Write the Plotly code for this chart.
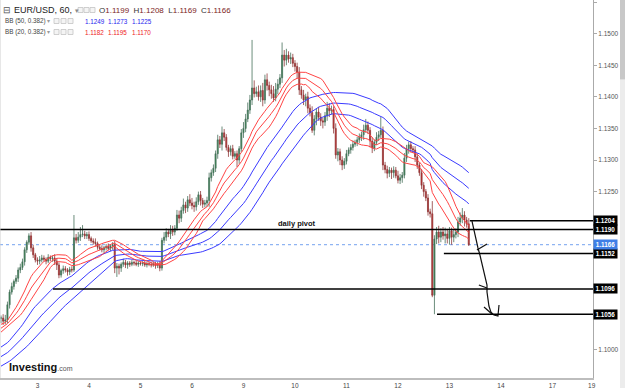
import plotly.graph_objects as go
import pandas as pd

BASE = 1.1
PIP = 0.0001

# closes before the visible window (needed for the band warm-up), pips above 1.1000
pre_close_pips = [-45, -50, -48, -55, -52, -58, -60, -55, -50, -52, -47, -45, -50, -48, -44, -40, -42, -46, -43, -38,
                  -35, -40, -36, -30, -33, -28, -25, -30, -22, -18,
                  -10, 0, 5, 12, 18, 25, 22, 30, 35, 28, 32, 38, 42, 40, 45, 50, 48, 52, 55, 50]

# hourly closes of the visible window, pips above 1.1000
close_pips = [50, 45, 47, 71, 91, 100, 108, 113, 126, 130, 139, 158, 170, 180, 161, 150, 142, 140, 142, 145,
              143, 140, 146, 144, 145, 140, 134, 118, 125, 128, 126, 123, 127, 126, 177, 173, 178, 182, 183, 180,
              182, 176, 172, 170, 168, 162, 160, 158, 161, 163, 160, 164, 166, 129, 132, 129, 135, 138, 134, 137,
              135, 138, 137, 135, 137, 136, 137, 134, 136, 135, 134, 136, 133, 135, 129, 173, 178, 186, 183, 190,
              186, 192, 213, 208, 220, 229, 224, 237, 232, 228, 226, 234, 245, 236, 230, 232, 236, 272, 280, 287,
              310, 332, 325, 343, 336, 320, 313, 318, 306, 310, 300, 318, 343, 350, 365, 379, 395, 414, 405, 408,
              400, 410, 395, 427, 418, 411, 405, 398, 412, 420, 430, 466, 458, 466, 460, 462, 453, 448, 439, 411,
              403, 395, 400, 382, 375, 347, 365, 376, 368, 362, 360, 370, 382, 378, 380, 350, 308, 313, 300, 292,
              298, 310, 316, 320, 325, 328, 332, 336, 340, 348, 355, 347, 330, 319, 328, 336, 340, 347, 292, 285,
              279, 284, 280, 284, 275, 268, 272, 276, 303, 318, 324, 318, 316, 305, 292, 280, 260, 250, 240, 218,
              215, 86, 175, 186, 178, 186, 180, 183, 176, 188, 178, 182, 186, 202, 208, 213, 205, 199, 166]

upper_wick_pips = [4, 6, 8, 5, 4, 6, 3, 5, 4, 6, 5, 4, 3, 4, 6, 5, 3, 4, 6, 5,
                   4, 3, 5, 3, 4, 6, 5, 4, 3, 5, 4, 3, 4, 5, 36, 6, 8, 12, 14, 5,
                   4, 5, 3, 4, 6, 3, 4, 5, 3, 4, 5, 3, 4, 6, 5, 4, 3, 6, 4, 3,
                   3, 4, 3, 4, 3, 2, 3, 4, 3, 3, 4, 3, 3, 4, 5, 4, 8, 6, 5, 7,
                   6, 5, 8, 7, 6, 10, 5, 6, 9, 8, 6, 7, 5, 6, 4, 5, 6, 8, 5, 6,
                   5, 8, 6, 10, 6, 5, 4, 5, 6, 4, 5, 4, 6, 10, 8, 12, 8, 76, 12, 8,
                   10, 8, 12, 8, 10, 6, 8, 12, 10, 8, 6, 20, 8, 10, 6, 8, 6, 5, 6, 8,
                   6, 8, 5, 8, 6, 10, 6, 5, 8, 6, 5, 6, 10, 8, 6, 5, 8, 6, 5, 6,
                   5, 6, 4, 5, 6, 4, 5, 6, 5, 8, 10, 6, 5, 6, 4, 8, 6, 21, 6, 5,
                   6, 5, 4, 6, 5, 8, 6, 5, 8, 6, 5, 6, 4, 6, 5, 4, 6, 5, 4, 6,
                   5, 20, 6, 8, 10, 6, 8, 10, 8, 6, 5, 8, 6, 8, 9, 11, 6, 5, 9]

lower_wick_pips = [8, 6, 5, 5, 6, 4, 5, 4, 6, 5, 4, 6, 5, 4, 6, 5, 4, 6, 5, 4,
                   4, 5, 3, 4, 5, 6, 8, 5, 4, 5, 4, 6, 5, 4, 3, 5, 4, 6, 4, 5,
                   5, 4, 3, 4, 5, 4, 3, 4, 5, 4, 3, 4, 6, 8, 14, 10, 6, 4, 5, 6,
                   4, 3, 4, 3, 4, 3, 4, 3, 4, 3, 4, 3, 5, 4, 5, 4, 5, 6, 5, 8,
                   6, 5, 4, 8, 6, 5, 8, 6, 5, 6, 8, 6, 5, 8, 6, 5, 6, 10, 6, 5,
                   6, 8, 6, 10, 6, 5, 8, 6, 5, 4, 11, 6, 5, 8, 6, 5, 6, 8, 6, 5,
                   6, 8, 10, 6, 8, 10, 8, 6, 5, 8, 6, 8, 10, 8, 6, 8, 6, 8, 10, 8,
                   6, 8, 10, 8, 6, 4, 8, 10, 6, 8, 10, 6, 8, 10, 6, 8, 6, 10, 8, 8,
                   6, 5, 4, 6, 5, 4, 6, 5, 6, 8, 5, 6, 10, 8, 5, 4, 6, 5, 8, 6,
                   8, 6, 10, 8, 4, 5, 6, 8, 5, 6, 8, 6, 5, 8, 6, 5, 6, 8, 5, 6,
                   6, 3, 30, 8, 10, 8, 6, 12, 8, 10, 12, 8, 6, 8, 6, 8, 10, 6, 2]

day_labels = ["3", "4", "5", "6", "9", "10", "11", "12", "13", "14", "17", "19"]
day_tick_index = [17, 41, 65, 89, 113, 137, 161, 185, 209, 233, 257, 275.3]

y_ticks = [1.100, 1.105, 1.110, 1.115, 1.120, 1.125, 1.130, 1.135, 1.140, 1.145, 1.150, 1.155]
# tick labels that sit behind the price-level boxes are not visible in the chart
hidden_tick_labels = [1.105, 1.110, 1.115, 1.120]

level_prices = [1.1204, 1.1190, 1.1152, 1.1096, 1.1056]
level_start_index = [218.5, -0.5, 206.4, 24.2, 203.2]
current_price = 1.1166

header_ohlc = [("O", "1.1199"), ("H", "1.1208"), ("L", "1.1169"), ("C", "1.1166")]
bb50_values = ["1.1249", "1.1273", "1.1225"]
bb20_values = ["1.1182", "1.1195", "1.1170"]

# hand-drawn projection path (hour index, price), None separates strokes
drawing_x = [219.5, 220.4, 221.3, 222.3, 223.2, 224.1, 225.1, 226.0, 226.5, 226.5, 226.9, 227.4, 228.3, 229.7, 231.6, 232.1, None,
             221.8, 226.5, None, 222.7, 226.5, None, 225.1, 228.8]
drawing_p = [1.12035, 1.11892, 1.11734, 1.11608, 1.11497, 1.1137, 1.1126, 1.11133, 1.11022, 1.10911, 1.10785, 1.1069, 1.10595, 1.10547, 1.10532, 1.10706, None,
             1.11576, 1.11671, None, 1.11022, 1.10975, None, 1.10674, 1.10563]

X_MIN, X_MAX = -0.47, 275.9
Y_MIN, Y_MAX = 1.09551, 1.15532

# ---- derived series ----
all_close = [BASE + p * PIP for p in pre_close_pips + close_pips]
n_pre = len(pre_close_pips)
idx_all = list(range(-n_pre, len(close_pips)))
closes = all_close[n_pre:]
opens = all_close[n_pre - 1:-1]
highs = [max(o, c) + w * PIP for o, c, w in zip(opens, closes, upper_wick_pips)]
lows = [min(o, c) - w * PIP for o, c, w in zip(opens, closes, lower_wick_pips)]
idx = list(range(len(close_pips)))

s = pd.Series(all_close, index=idx_all)


def bands(n, k=0.382):
    m = s.rolling(n, min_periods=5).mean()
    sd = s.rolling(n, min_periods=5).std()
    m, sd = m[m.index >= 0], sd[sd.index >= 0]
    return m, m + k * sd, m - k * sd


fig = go.Figure()
fig.add_trace(go.Candlestick(
    x=idx, open=opens, high=highs, low=lows, close=closes,
    increasing=dict(line=dict(color="#46705a", width=0.8), fillcolor="#2f8a4a"),
    decreasing=dict(line=dict(color="#8e3838", width=0.8), fillcolor="#d42020"),
    whiskerwidth=0, hoverinfo="skip", showlegend=False))

for n, col in [(50, "#3a3aff"), (20, "#ff4444")]:
    for ser in bands(n):
        fig.add_trace(go.Scatter(x=list(ser.index), y=list(ser.values), mode="lines",
                                 line=dict(color=col, width=1), hoverinfo="skip", showlegend=False))

fig.add_trace(go.Scatter(x=drawing_x, y=drawing_p, mode="lines", line=dict(color="#111", width=1.2),
                         hoverinfo="skip", showlegend=False, connectgaps=False))

shapes = []
shapes.append(dict(type="line", xref="x", yref="y", x0=X_MIN, x1=X_MAX, y0=current_price, y1=current_price,
                   line=dict(color="#8fb4f2", width=1.2, dash="dot"), layer="below"))
for lv, st in zip(level_prices, level_start_index):
    shapes.append(dict(type="line", xref="x", yref="y", x0=st, x1=X_MAX, y0=lv, y1=lv,
                       line=dict(color="#000", width=1.4)))
# left border
shapes.append(dict(type="line", xref="paper", yref="paper", x0=0, x1=0, y0=0, y1=1,
                   line=dict(color="#cfcfcf", width=1)))
# scrollbar strip at far right
shapes.append(dict(type="rect", xref="paper", yref="paper", x0=1.0455, x1=1.06, y0=-0.03, y1=1,
                   fillcolor="#ececec", line=dict(width=0)))
shapes.append(dict(type="rect", xref="paper", yref="paper", x0=1.0455, x1=1.06, y0=0.79, y1=1,
                   fillcolor="#c8c8c8", line=dict(width=0)))


def px(xp, yp):
    return xp / 593, (378 - yp) / 378


# header icon boxes (small squares)
for row_yp, xs in [(10, [78, 84, 90]), (21, [54, 61, 68]), (32, [54, 61, 68])]:
    for xp in xs:
        x0, y0 = px(xp, row_yp + 2.5)
        x1, y1 = px(xp + 5, row_yp - 2.5)
        shapes.append(dict(type="rect", xref="paper", yref="paper", x0=x0, x1=x1, y0=y0, y1=y1,
                           fillcolor="#f4f4f4", line=dict(color="#c4c4c4", width=0.8)))

ann = []
FONT = "Liberation Sans, Arial, sans-serif"
for lv in level_prices:
    ann.append(dict(xref="paper", yref="y", x=1.0, xshift=0, y=lv, xanchor="left", yanchor="middle",
                    text=f"<b>{lv:.4f}</b>", showarrow=False, bgcolor="#000", width=22, height=8,
                    font=dict(color="#fff", size=6.3, family=FONT), borderpad=0.5))
ann.append(dict(xref="paper", yref="y", x=1.0, xshift=0, y=current_price, xanchor="left", yanchor="middle",
                text=f"<b>{current_price:.4f}</b>", showarrow=False, bgcolor="#3f7fe6", width=22, height=8,
                font=dict(color="#fff", size=6.3, family=FONT), borderpad=0.5))
ann.append(dict(xref="x", yref="y", x=138, y=level_prices[1], yanchor="bottom", yshift=0,
                text="<b>daily pivot</b>", showarrow=False, font=dict(size=7.5, color="#111", family=FONT)))


def head(xp, yp, text, size=9, color="#222"):
    x, y = px(xp, yp)
    ann.append(dict(xref="paper", yref="paper", x=x, y=y, xanchor="left", yanchor="middle", text=text,
                    showarrow=False, font=dict(size=size, color=color, family=FONT)))


head(1, 10, "⊟", 9, "#555")
head(12, 10, "EUR/USD, 60, <span style='font-size:7px;color:#888'>▾</span>", 9, "#222")
ohlc_text = "  ".join(f"{lab}<span style='color:#7b1c1c'>{val}</span>" for lab, val in header_ohlc)
head(97, 10, ohlc_text, 8, "#333")
head(3, 21, "BB (50, 0.382) <span style='color:#999'>▾</span>", 6.3, "#444")
head(3, 32, "BB (20, 0.382) <span style='color:#999'>▾</span>", 6.3, "#444")
for xp, v in zip([83, 106, 130], bb50_values):
    head(xp, 21, v, 6.3, "#2626ee")
for xp, v in zip([83, 106, 130], bb20_values):
    head(xp, 32, v, 6.3, "#ee2222")
head(7, 367, "<b>Investing</b><span style='font-size:7px;color:#555'>.com</span>", 11, "#111")

tick_text = ["" if any(abs(v - h) < 1e-9 for h in hidden_tick_labels) else f"{v:.4f}" for v in y_ticks]

fig.update_layout(
    width=625, height=388, margin=dict(l=0, r=32, t=0, b=10),
    paper_bgcolor="#fff", plot_bgcolor="#fff", showlegend=False,
    shapes=shapes, annotations=ann, font=dict(family=FONT),
    xaxis=dict(range=[X_MIN, X_MAX], rangeslider=dict(visible=False), showgrid=False, zeroline=False,
               tickvals=day_tick_index, ticktext=day_labels, tickfont=dict(size=6.5, color="#444"),
               showline=True, linecolor="#bdbdbd", linewidth=1.5, ticks="", ticklabelstandoff=0),
    yaxis=dict(range=[Y_MIN, Y_MAX], side="right", showgrid=False, zeroline=False,
               tickvals=y_ticks, ticktext=tick_text, tickfont=dict(size=6.5, color="#555"),
               showline=True, linecolor="#aaa", ticks="outside", ticklen=3, tickcolor="#aaa"),
)

fig.write_html("out.html")
